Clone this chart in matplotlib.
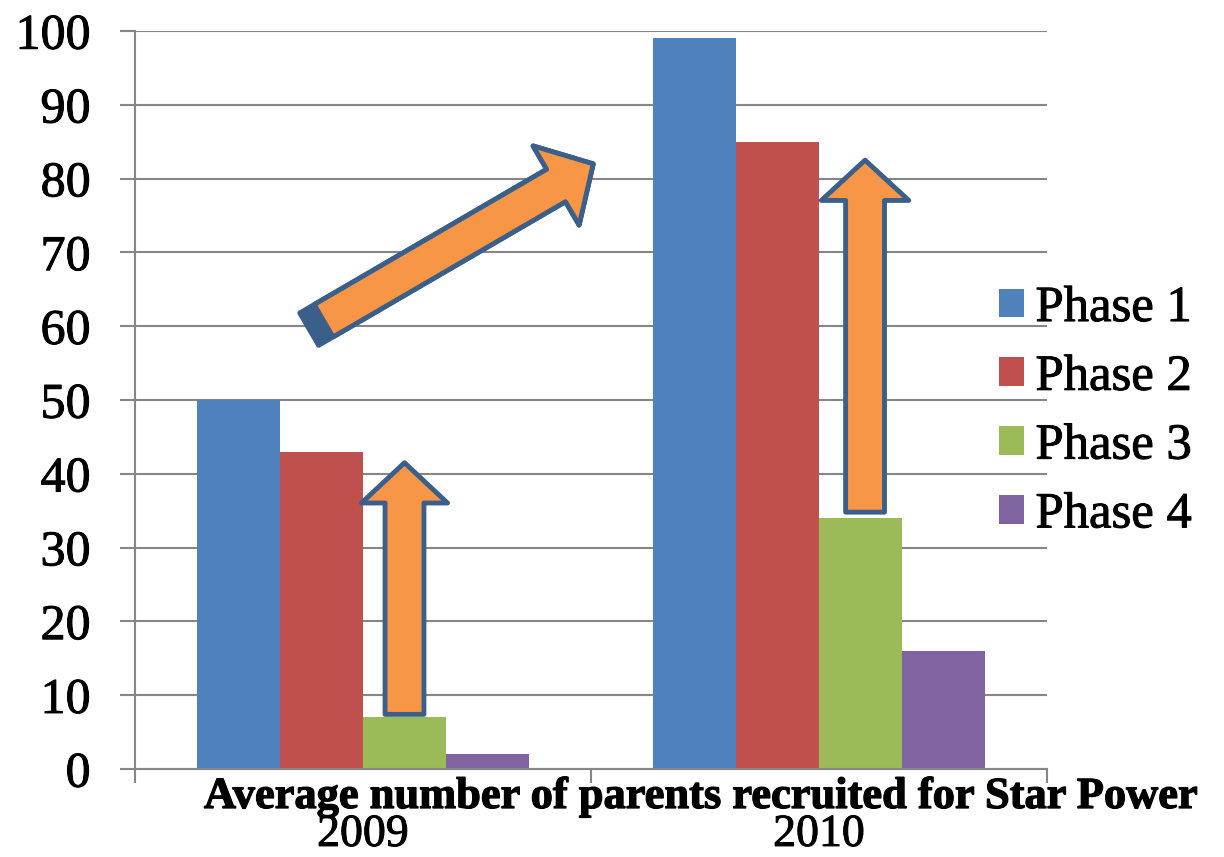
import numpy as np
import matplotlib.pyplot as plt
import matplotlib.patheffects as pe
from matplotlib.patches import Patch

# average number of parents recruited, per phase and year
years = ['2009', '2010']
phases = ['Phase 1', 'Phase 2', 'Phase 3', 'Phase 4']
phase1 = [50, 99]
phase2 = [43, 85]
phase3 = [7, 34]
phase4 = [2, 16]
series = [phase1, phase2, phase3, phase4]

colors = ['#4F81BD', '#C0504D', '#9BBB59', '#8064A2']
grid_col = '#868686'
arrow_fc = '#F79646'
arrow_ec = '#3A5F8B'

plt.rcParams['font.family'] = ['Liberation Serif', 'DejaVu Serif']
heavy = [pe.withStroke(linewidth=0.7, foreground='black')]

fig = plt.figure(figsize=(12.24, 8.57), dpi=100)
ax = fig.add_axes([135 / 1224, 1 - 769 / 857, 912 / 1224, 738 / 857])

x = np.arange(len(years))
w = 0.182
for i, (vals, c) in enumerate(zip(series, colors)):
    ax.bar(x + (i - 1.5) * w, vals, width=w, color=c, linewidth=0, zorder=2)

ax.set_xlim(-0.5, 1.5)
ax.set_ylim(0, 100)
ax.set_yticks(np.arange(0, 101, 10))
ax.yaxis.grid(True, color=grid_col, linewidth=1.5)
ax.set_axisbelow(True)

for s in ['top', 'right']:
    ax.spines[s].set_visible(False)
for s in ['left', 'bottom']:
    ax.spines[s].set_color(grid_col)
    ax.spines[s].set_linewidth(1.5)

ax.tick_params(axis='y', length=11, width=1.5, color=grid_col, pad=21, labelsize=36)
ax.set_xticks(x)
ax.set_xticklabels(years)
ax.set_xticks([-0.5, 0.5, 1.5], minor=True)
ax.tick_params(axis='x', which='major', length=0, pad=32, labelsize=33)
ax.tick_params(axis='x', which='minor', length=10, width=1.5, color=grid_col)
for lab in ax.get_xticklabels() + ax.get_yticklabels():
    lab.set_path_effects(heavy)


def block_arrow(tail, tip, head_len, head_w, tail_w, dark_tail=0):
    style = f"simple,head_length={head_len},head_width={head_w},tail_width={tail_w}"
    if dark_tail:
        ax.annotate("", xy=tip, xytext=tail,
                    arrowprops=dict(arrowstyle=style, mutation_scale=1, fc=arrow_ec,
                                    ec=arrow_ec, lw=3.5, shrinkA=0, shrinkB=0),
                    annotation_clip=False, zorder=4)
    ax.annotate("", xy=tip, xytext=tail,
                arrowprops=dict(arrowstyle=style, mutation_scale=1, fc=arrow_fc,
                                ec=arrow_ec, lw=3.5, shrinkA=dark_tail, shrinkB=0),
                annotation_clip=False, zorder=5)


# rising arrows over the phase 3 bars
green_x = x + 0.5 * w
block_arrow((green_x[0], phase3[0] + 0.4), (green_x[0], 41.5), 29, 62, 28)
block_arrow((green_x[1] + 0.01, phase3[1] + 0.8), (green_x[1] + 0.01, 82.5), 29, 63, 28)
# year-over-year arrow
block_arrow((-0.118, 59.6), (0.505, 82.0), 31, 66, 27, dark_tail=12)

handles = [Patch(facecolor=c, edgecolor='none') for c in colors]
leg = fig.legend(handles, phases, loc='center left', bbox_to_anchor=(999 / 1224, 1 - 412 / 857),
                 frameon=False, fontsize=36.5, handlelength=0.5, handleheight=0.5,
                 handletextpad=0.22, labelspacing=0.44, borderpad=0, borderaxespad=0)
for t in leg.get_texts():
    t.set_path_effects(heavy)

fig.text(702 / 1224, 1 - 808 / 857, 'Average number of parents recruited for Star Power',
         ha='center', va='baseline', fontsize=32, fontweight='bold',
         path_effects=[pe.withStroke(linewidth=0.9, foreground='black')])

fig.savefig('out.png', dpi=100)
